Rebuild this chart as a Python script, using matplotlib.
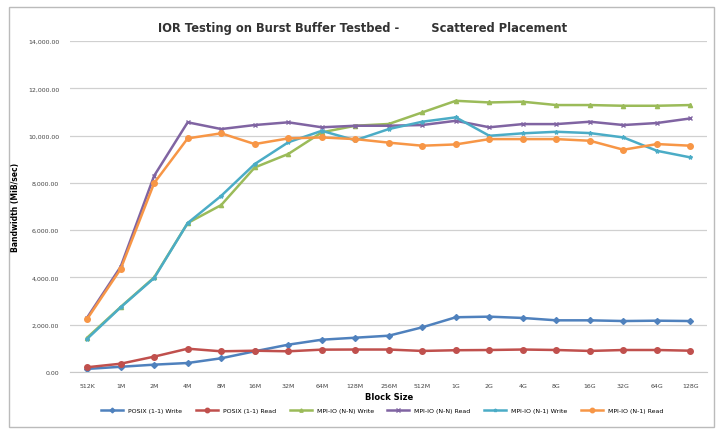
import matplotlib.pyplot as plt
from matplotlib.patches import Rectangle

block_sizes = ["512K", "1M", "2M", "4M", "8M", "16M", "32M", "64M", "128M", "256M",
               "512M", "1G", "2G", "4G", "8G", "16G", "32G", "64G", "128G"]

posix_write = [130, 220, 310, 380, 580, 875, 1155, 1365, 1450, 1535,
               1890, 2315, 2340, 2285, 2185, 2185, 2155, 2170, 2155]
posix_read = [200, 350, 650, 985, 875, 900, 875, 945, 950, 950,
              890, 920, 930, 950, 930, 890, 930, 930, 900]
mpiio_nn_write = [1450, 2750, 4000, 6300, 7060, 8650, 9220, 10135, 10415, 10490,
                  10980, 11470, 11400, 11430, 11290, 11290, 11260, 11260, 11290]
mpiio_nn_read = [2300, 4450, 8300, 10560, 10275, 10445, 10560, 10350, 10415, 10415,
                 10445, 10625, 10350, 10485, 10485, 10585, 10445, 10530, 10725]
mpiio_n1_write = [1400, 2735, 3975, 6300, 7450, 8795, 9715, 10200, 9800, 10275,
                  10585, 10770, 9990, 10095, 10160, 10105, 9920, 9355, 9075]
mpiio_n1_read = [2240, 4355, 7990, 9880, 10095, 9640, 9880, 9920, 9850, 9700,
                 9570, 9625, 9850, 9850, 9850, 9780, 9400, 9640, 9570]

series = [
    ("POSIX (1-1) Write", posix_write, "#4F81BD", "D"),
    ("POSIX (1-1) Read", posix_read, "#C0504D", "o"),
    ("MPI-IO (N-N) Write", mpiio_nn_write, "#9BBB59", "^"),
    ("MPI-IO (N-N) Read", mpiio_nn_read, "#8064A2", "x"),
    ("MPI-IO (N-1) Write", mpiio_n1_write, "#4BACC6", "*"),
    ("MPI-IO (N-1) Read", mpiio_n1_read, "#F79646", "o"),
]

fig = plt.figure(figsize=(7.18, 4.31), dpi=100)
fig.patches.append(Rectangle((0.013, 0.006), 0.982, 0.975, transform=fig.transFigure,
                             fill=False, edgecolor="#BBBBBB", linewidth=1.0))

ax = fig.add_axes([0.098, 0.1346, 0.887, 0.768])
x = range(len(block_sizes))
for name, vals, col, mk in series:
    ms = 4 if mk == "o" else 3
    ax.plot(x, vals, color=col, linewidth=1.8, marker=mk, markersize=ms,
            markeredgecolor=col, markerfacecolor=col, label=name)

ax.set_xlim(-0.5, len(block_sizes) - 0.5)
ax.set_ylim(0, 14000)
ax.set_yticks(range(0, 14001, 2000))
ax.set_yticklabels(["{:,.2f}".format(v) for v in range(0, 14001, 2000)], fontsize=4.5)
ax.set_xticks(list(x))
ax.set_xticklabels(block_sizes, fontsize=4.5)
ax.tick_params(length=0, pad=8, colors="#444444")
ax.grid(axis="y", color="#D0D0D0", linewidth=0.9)
ax.set_axisbelow(True)
for side in ["top", "right", "left"]:
    ax.spines[side].set_visible(False)
ax.spines["bottom"].set_color("#C8C8C8")

ax.set_xlabel("Block Size", fontsize=6, fontweight="bold", labelpad=3)
ax.set_ylabel("Bandwidth (MiB/sec)", fontsize=5.5, fontweight="bold", labelpad=6)

fig.text(0.505, 0.935, "IOR Testing on Burst Buffer Testbed -        Scattered Placement",
         ha="center", va="center", fontsize=8.3, fontweight="bold", color="#333333")

ax.legend(loc="upper center", bbox_to_anchor=(0.49, -0.09), ncol=6, frameon=False,
          fontsize=4.5, handlelength=3.5, columnspacing=2.2, markerscale=0.8)

fig.savefig("out.png", dpi=100)
